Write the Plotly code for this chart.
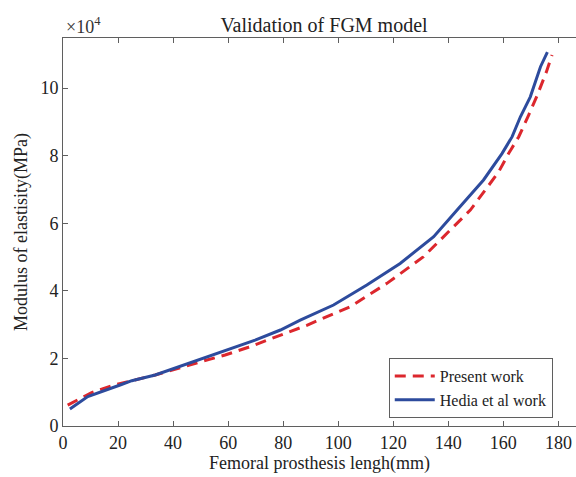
import plotly.graph_objects as go

# Femoral prosthesis length (mm) and modulus of elasticity (MPa)
present_x = [1.7, 10.4, 18.9, 33.5, 50.4, 58.9, 67.4, 88.6, 104.4, 117.7, 131.0,
             138.9, 143.2, 148.0, 153.5, 158.3, 161.9, 165.6, 169.2, 172.3, 175.6, 177.7]
present_e = [6200, 9900, 12200, 15100, 19100, 21000, 23300, 29800, 35300, 42200, 50100,
             56500, 60000, 63900, 69900, 75200, 80600, 85600, 92000, 97800, 104700, 109800]

hedia_x = [2.5, 9.0, 21.0, 25.0, 33.5, 45.6, 57.7, 69.8, 79.0, 86.2, 98.3, 110.4,
           122.5, 134.7, 143.2, 152.8, 159.5, 163.2, 166.2, 169.8, 173.5, 176.0]
hedia_e = [5000, 8700, 12200, 13400, 15100, 18600, 21900, 25400, 28400, 31300, 35800, 41700,
           48100, 56000, 63900, 72800, 80600, 85600, 91500, 97400, 106300, 110600]

y_ticks = [0, 20000, 40000, 60000, 80000, 100000]
y_tick_text = ["0", "2", "4", "6", "8", "10"]
x_ticks = [0, 20, 40, 60, 80, 100, 120, 140, 160, 180]

serif = "Liberation Serif, Times New Roman, serif"
axis_col = "#5f5f5f"
text_col = "#222222"

fig = go.Figure()
fig.add_trace(go.Scatter(
    x=present_x, y=present_e, mode="lines", name="Present work",
    line=dict(color="#dc272d", width=3, dash="11px,7px"),
))
fig.add_trace(go.Scatter(
    x=hedia_x, y=hedia_e, mode="lines", name="Hedia et al work",
    line=dict(color="#2d4b9d", width=3),
))

fig.update_layout(
    width=576, height=477,
    margin=dict(l=63, r=0, t=38, b=51),
    paper_bgcolor="white", plot_bgcolor="white",
    font=dict(family=serif, size=18, color=text_col),
    title=dict(text="Validation of FGM model", x=0.5625, xanchor="center",
               y=0.948, yanchor="middle", font=dict(family=serif, size=20, color=text_col)),
    showlegend=True,
    legend=dict(x=0.635, y=0.175, xanchor="left", yanchor="top",
                bgcolor="white", bordercolor=axis_col, borderwidth=1,
                font=dict(family=serif, size=16, color=text_col),
                tracegroupgap=0, itemwidth=40),
    annotations=[dict(text="×10<sup>4</sup>", x=0.002, y=1.032, xref="paper", yref="paper",
                      showarrow=False, xanchor="left", yanchor="middle",
                      font=dict(family=serif, size=18, color="#333333"))],
)

fig.update_xaxes(
    range=[0, 186.4], tickvals=x_ticks, ticks="inside", ticklen=5,
    tickcolor=axis_col, showline=True, linecolor=axis_col, linewidth=1,
    mirror="ticks", showgrid=False, zeroline=False,
    tickfont=dict(family=serif, size=18, color=text_col),
    title=dict(text="Femoral prosthesis lengh(mm)", standoff=4,
               font=dict(family=serif, size=18, color=text_col)),
)
fig.update_yaxes(
    range=[0, 114800], tickvals=y_ticks, ticktext=y_tick_text, ticks="inside", ticklen=5,
    tickcolor=axis_col, showline=True, linecolor=axis_col, linewidth=1,
    mirror=False, showgrid=False, zeroline=False,
    tickfont=dict(family=serif, size=18, color=text_col),
    title=dict(text="Modulus of elastisity(MPa)", standoff=8,
               font=dict(family=serif, size=18, color=text_col)),
)

fig.write_html("out.html")
